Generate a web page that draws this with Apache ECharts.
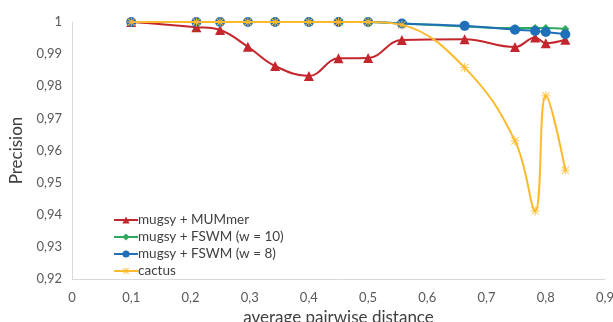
<!DOCTYPE html>
<html>
<head>
<meta charset="utf-8">
<script src="https://cdn.jsdelivr.net/npm/echarts@6/dist/echarts.min.js"></script>
<style>html,body{margin:0;padding:0;background:#fff}#c{width:613px;height:322px}</style>
</head>
<body>
<div id="c"></div>
<script>
const distances = [0.1, 0.21, 0.25, 0.297, 0.343, 0.40, 0.45, 0.50, 0.557, 0.663, 0.748, 0.782, 0.80, 0.833];
const mugsyMummer = [1.0, 0.9984, 0.9975, 0.9923, 0.9863, 0.9832, 0.9887, 0.9888, 0.9944, 0.9946, 0.9922, 0.9952, 0.9934, 0.9945];
const mugsyFswm10 = [1.0, 1.0, 1.0, 1.0, 1.0, 1.0, 1.0, 1.0, 0.9995, 0.9986, 0.9981, 0.9981, 0.9981, 0.9978];
const mugsyFswm8 = [1.0, 1.0, 1.0, 1.0, 1.0, 1.0, 1.0, 1.0, 0.9995, 0.9988, 0.9976, 0.9972, 0.9969, 0.9962];
const cactus = [1.0, 1.0, 1.0, 1.0, 1.0, 1.0, 1.0, 1.0, 0.9991, 0.9858, 0.963, 0.9412, 0.977, 0.9539];
const seriesNames = ['mugsy + MUMmer', 'mugsy + FSWM (w = 10)', 'mugsy + FSWM (w = 8)', 'cactus'];
const xTicks = ['0', '0,1', '0,2', '0,3', '0,4', '0,5', '0,6', '0,7', '0,8', '0,9'];
const yTicks = ['0,92', '0,93', '0,94', '0,95', '0,96', '0,97', '0,98', '0,99', '1'];

const FONT = 'Lato';
const star = 'path://M-0.5,-5L0.5,-5L0.5,5L-0.5,5Z M-4.35,-3.65L-3.65,-4.35L4.35,3.65L3.65,4.35Z M3.65,-4.35L4.35,-3.65L-3.65,4.35L-4.35,3.65Z M-5,-0.5L5,-0.5L5,0.5L-5,0.5Z';
function pairs(ys){ return distances.map((x,i)=>[x, ys[i]]); }
const chart = echarts.init(document.getElementById('c'), null, {renderer:'canvas'});
const colors = ['#C3262C', '#2EAA5C', '#1F70B8', '#FDBA2C'];
function mk(name, ys, color, symbol, size, z){
  return {name, type:'line', data:pairs(ys), smooth:0.4, symbol, symbolSize:size,
    lineStyle:{color, width:2}, itemStyle:{color}, z, animation:false};
}
chart.setOption({
  animation:false,
  textStyle:{fontFamily:FONT},
  grid:{left:72, right:8, top:22, bottom:43, containLabel:false, outerBoundsMode:'none'},
  legend:{orient:'vertical', left:108, top:208, itemGap:3, itemWidth:24, itemHeight:9,
    textStyle:{fontFamily:FONT, fontSize:13.5, color:'#404040', padding:[0,0,0,-5]},
    data:seriesNames},
  xAxis:{type:'value', min:0, max:0.9, interval:0.1,
    name:'average pairwise distance', nameLocation:'middle', nameGap:29,
    nameTextStyle:{fontFamily:FONT, fontSize:17, color:'#404040'},
    axisLine:{show:true, lineStyle:{color:'#D9D9D9', width:1}},
    axisTick:{show:false}, splitLine:{show:false},
    axisLabel:{fontFamily:FONT, fontSize:13, color:'#595959', margin:12,
      formatter:(v)=>xTicks[Math.round(v*10)]}},
  yAxis:{type:'value', min:0.92, max:1, interval:0.01,
    name:'Precision', nameLocation:'middle', nameGap:47, nameRotate:90,
    nameTextStyle:{fontFamily:FONT, fontSize:17, color:'#404040'},
    axisLine:{show:true, lineStyle:{color:'#D9D9D9', width:1}},
    axisTick:{show:false}, splitLine:{show:false},
    axisLabel:{fontFamily:FONT, fontSize:13, color:'#595959', margin:10,
      formatter:(v)=>yTicks[Math.round((v-0.92)*100)]}},
  series:[
    mk(seriesNames[0], mugsyMummer, colors[0], 'triangle', 10, 2),
    mk(seriesNames[1], mugsyFswm10, colors[1], 'diamond', 8, 3),
    mk(seriesNames[2], mugsyFswm8, colors[2], 'circle', 10, 4),
    mk(seriesNames[3], cactus, colors[3], star, 9, 5)
  ]
});
</script>
</body>
</html>
